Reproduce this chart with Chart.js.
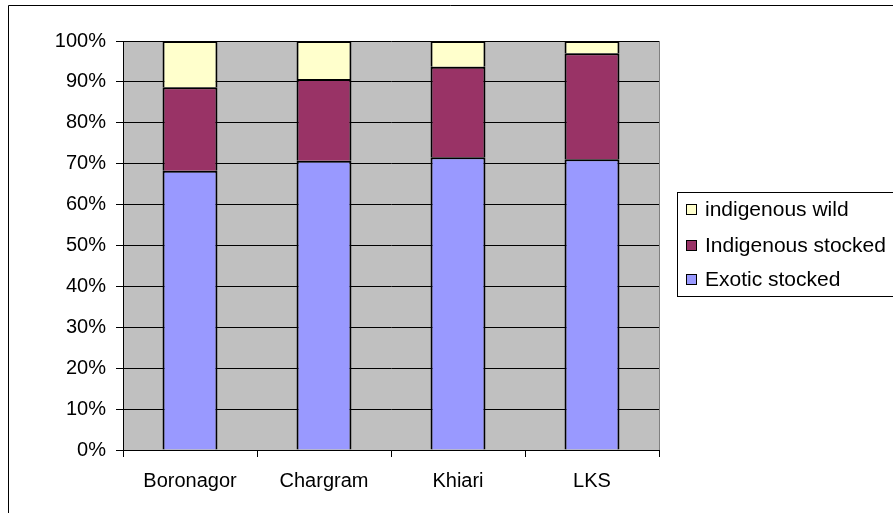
<!DOCTYPE html>
<html>
<head>
<meta charset="utf-8">
<script src="https://cdn.jsdelivr.net/npm/chart.js@4.4.0/dist/chart.umd.min.js"></script>
<style>
    html, body { margin: 0; padding: 0; background: #ffffff; }
    #wrap { width: 893px; height: 513px; position: relative; }
</style>
</head>
<body>
<div id="wrap"><canvas id="chart"></canvas></div>
<script>
// Chart data (percent of catch per site)
const categories = ['Boronagor', 'Chargram', 'Khiari', 'LKS'];
const exoticStocked = [68.3, 70.7, 71.6, 71.1];
const indigenousStocked = [20.4, 20.0, 22.1, 25.9];
const indigenousWild = [11.3, 9.3, 6.3, 3.0];
const yTicks = [0, 10, 20, 30, 40, 50, 60, 70, 80, 90, 100];

const FONT = 'Liberation Sans, Arial, sans-serif';

/**
 * Grey plot background, outer frame and the boxed legend
 */
const excelLook = {
    id: 'excelLook',
    beforeDraw(chart) {
        const { ctx, chartArea } = chart;
        ctx.save();
        ctx.fillStyle = '#c0c0c0';
        ctx.fillRect(chartArea.left, chartArea.top, chartArea.right - chartArea.left, chartArea.bottom - chartArea.top);

        // outer chart frame (only left and top are visible)
        ctx.strokeStyle = '#000000';
        ctx.lineWidth = 1;
        ctx.beginPath();
        ctx.moveTo(8.5, 513);
        ctx.lineTo(8.5, 5.5);
        ctx.lineTo(893, 5.5);
        ctx.stroke();
        ctx.restore();
    },
    afterDraw(chart) {
        const { ctx, chartArea } = chart;
        ctx.save();
        // grey right edge of plot area
        ctx.strokeStyle = '#808080';
        ctx.lineWidth = 1;
        ctx.beginPath();
        ctx.moveTo(Math.round(chartArea.right) + 0.5, chartArea.top);
        ctx.lineTo(Math.round(chartArea.right) + 0.5, chartArea.bottom);
        ctx.stroke();

        // legend box
        ctx.strokeStyle = '#000000';
        ctx.fillStyle = '#ffffff';
        ctx.fillRect(677.5, 192.5, 230, 104);
        ctx.strokeRect(677.5, 192.5, 230, 104);

        const rowsY = [209, 245, 279];
        const items = chart.data.datasets.slice().reverse();
        ctx.font = '21px ' + FONT;
        ctx.textBaseline = 'middle';
        items.forEach((ds, i) => {
            const y = rowsY[i];
            ctx.fillStyle = ds.backgroundColor;
            ctx.fillRect(687, y - 4, 9, 9);
            ctx.strokeStyle = '#000000';
            ctx.lineWidth = 1;
            ctx.strokeRect(686.5, y - 4.5, 10, 10);
            ctx.fillStyle = '#000000';
            ctx.fillText(ds.label, 705, y + 1);
        });
        ctx.restore();
    }
};

new Chart(document.getElementById('chart'), {
    type: 'bar',
    data: {
        labels: categories,
        datasets: [
            {
                label: 'Exotic stocked',
                data: exoticStocked,
                backgroundColor: '#9999ff',
            },
            {
                label: 'Indigenous stocked',
                data: indigenousStocked,
                backgroundColor: '#993366',
            },
            {
                label: 'indigenous wild',
                data: indigenousWild,
                backgroundColor: '#ffffcc',
            }
        ]
    },
    options: {
        responsive: true,
        maintainAspectRatio: false,
        animation: false,
        layout: {
            padding: { top: 41, right: 234, bottom: 0, left: 0 }
        },
        datasets: {
            bar: {
                categoryPercentage: 1.0,
                barPercentage: 0.41,
                borderColor: '#000000',
                borderWidth: 2,
                borderSkipped: 'start',
            }
        },
        scales: {
            x: {
                stacked: true,
                offset: true,
                grid: {
                    drawOnChartArea: false,
                    drawTicks: true,
                    tickLength: 7,
                    color: '#000000',
                    offset: true,
                },
                border: { color: '#000000', width: 1 },
                ticks: {
                    color: '#000000',
                    padding: 12,
                    font: { family: FONT, size: 20 },
                },
                afterFit(scale) {
                    scale.height = 63;
                }
            },
            y: {
                stacked: true,
                min: 0,
                max: 100,
                afterBuildTicks(scale) {
                    scale.ticks = yTicks.map(v => ({ value: v }));
                },
                grid: {
                    color: '#000000',
                    lineWidth: 1,
                    tickLength: 7,
                },
                border: { color: '#000000', width: 1 },
                ticks: {
                    color: '#000000',
                    padding: 10,
                    font: { family: FONT, size: 20 },
                    callback: function(value) {
                        return value + '%';
                    }
                },
                afterFit(scale) {
                    scale.width = 123;
                }
            }
        },
        plugins: {
            legend: { display: false },
            tooltip: { enabled: false },
        }
    },
    plugins: [excelLook]
});
</script>
</body>
</html>
